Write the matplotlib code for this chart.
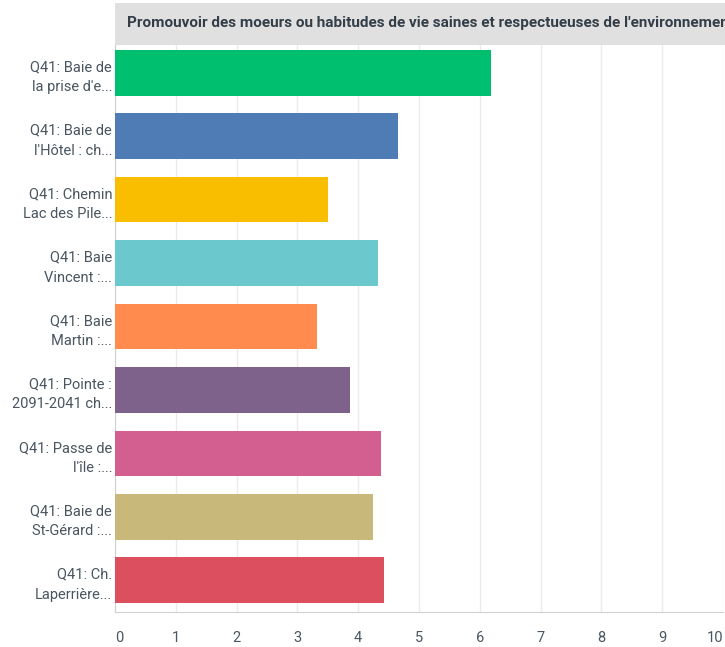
import matplotlib.pyplot as plt
from matplotlib.patches import Rectangle

# donnees
titre = "Promouvoir des moeurs ou habitudes de vie saines et respectueuses de l'environnement"
etiquettes = [
    "Q41: Baie de\nla prise d'e...",
    "Q41: Baie de\nl'Hôtel : ch...",
    "Q41: Chemin\nLac des Pile...",
    "Q41: Baie\nVincent :...",
    "Q41: Baie\nMartin :...",
    "Q41: Pointe :\n2091-2041 ch...",
    "Q41: Passe de\nl'île :...",
    "Q41: Baie de\nSt-Gérard :...",
    "Q41: Ch.\nLaperrière...",
]
valeurs = [6.19, 4.65, 3.51, 4.33, 3.33, 3.87, 4.37, 4.25, 4.43]
couleurs = ["#00bf6f", "#507cb6", "#f9be00", "#6bc8cd", "#ff8b4f",
            "#7f628b", "#d25f90", "#c8b87a", "#dc4f5e"]
graduations = list(range(0, 11))

W, H = 725, 647
fig = plt.figure(figsize=(W / 100, H / 100), dpi=100)
fig.patch.set_facecolor("white")

# bandeau gris du titre
fig.patches.append(Rectangle((115 / W, 1 - 44.5 / H), (W - 115) / W, 41.5 / H,
                             transform=fig.transFigure, facecolor="#e0e0e0",
                             edgecolor="none", zorder=0))
fig.text(127 / W, 1 - 23 / H, titre, fontsize=11, fontweight="bold",
         color="#333e48", va="center", ha="left", family="Roboto")

ax = fig.add_axes([115 / W, (H - 612) / H, (723 - 115) / W, (612 - 41) / H])
y = list(range(len(valeurs)))
ax.barh(y, valeurs, height=0.72, color=couleurs, zorder=3)
ax.set_ylim(len(valeurs) - 0.5, -0.5)
ax.set_xlim(0, 10)
ax.set_xticks(graduations)
ax.set_yticks(y)
ax.set_yticklabels(etiquettes, fontsize=10.5, color="#4a5560", family="Roboto",
                   linespacing=1.55)
ax.tick_params(axis="y", length=0, pad=2)
ax.tick_params(axis="x", length=0, pad=14, labelsize=10.5, labelcolor="#4a5560")
xlabs = ax.get_xticklabels()
for lab in xlabs:
    lab.set_family("Roboto")
# premiere et derniere etiquette restent dans la zone
xlabs[0].set_ha("left")
xlabs[-1].set_ha("right")
ax.grid(axis="x", color="#ebebeb", linewidth=1, zorder=0)
for s in ["top", "right"]:
    ax.spines[s].set_visible(False)
ax.spines["left"].set_color("#d0d0d0")
ax.spines["bottom"].set_color("#d0d0d0")

fig.savefig("out.png", dpi=100)
